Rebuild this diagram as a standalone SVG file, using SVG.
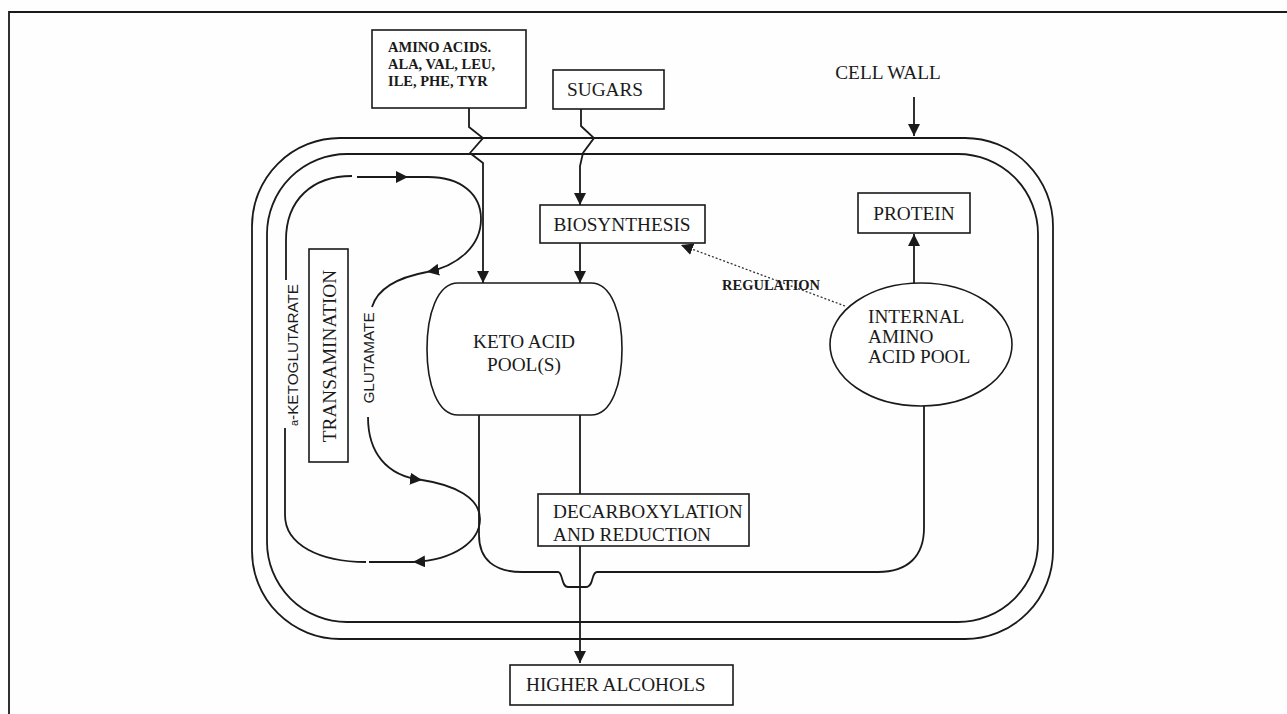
<svg xmlns="http://www.w3.org/2000/svg" width="1287" height="714" viewBox="0 0 1287 714">
<defs>
<marker id="arr" viewBox="0 0 12 12" refX="12" refY="6" markerWidth="12" markerHeight="12" markerUnits="userSpaceOnUse" orient="auto">
<path d="M0,0 L12,6 L0,12 Z" fill="#1a1a1a"/>
</marker>
<style>
.ln{fill:none;stroke:#1a1a1a;stroke-width:1.8}
.bx{fill:#fff;stroke:#1a1a1a;stroke-width:1.6}
.t{font-family:"Liberation Serif","Times New Roman",serif;font-size:19.3px;fill:#1a1a1a}
.tb{font-family:"Liberation Serif","Times New Roman",serif;font-size:14.5px;font-weight:bold;fill:#1a1a1a}
.ts{font-family:"Liberation Sans",Arial,sans-serif;font-size:15.3px;fill:#1a1a1a}
.ar{marker-end:url(#arr)}
</style>
</defs>
<rect width="1287" height="714" fill="#fefefe"/>
<g id="frame"><path class="ln" d="M9,714 V12 H1287" stroke-width="1.6"/></g>

<g id="cell-wall">
<rect class="ln" x="252" y="138" width="801" height="501" rx="88" ry="88"/>
<rect class="ln" x="267" y="154" width="771" height="468" rx="80" ry="80"/>
</g>

<g id="connectors">
<path class="ln ar" d="M469,108 V127 L483,138 L470,153 L483,163 V283"/>
<path class="ln ar" d="M581,109 V126 L594,138 L583,153 L580,166 V205"/>
<path class="ln ar" d="M580,243 V283"/>
<path class="ln ar" d="M914,97 V136"/>
<path class="ln ar" d="M914,283 V234"/>
<path class="ar" d="M845,306 L681,245" fill="none" stroke="#333" stroke-width="1.3" stroke-dasharray="2,2"/>
<path class="ln" d="M580,415 V494"/>
<path class="ln ar" d="M580,546 V663"/>
<path class="ln" d="M479,415 V535 C479,560 495,572 522,572 H558 C563,572 561,587 568,587 H586 C594,587 591,572 597,572 H878 C908,572 924,556 924,528 V406"/>
<path class="ln" d="M286,280 V240 C286,200 312,176 352,176"/>
<path class="ln ar" d="M357,177 H408"/>
<path class="ln ar" d="M408,177 H428 C462,177 481,195 481,219 C481,246 458,266 427,272"/>
<path class="ln" d="M427,272 C400,277 378,287 372,307"/>
<path class="ln ar" d="M368,417 C368,452 386,476 422,480"/>
<path class="ln ar" d="M422,480 C455,485 480,498 480,519 C480,541 455,560 413,562"/>
<path class="ln" d="M413,562 H369"/>
<path class="ln" d="M285,428 V515 C285,545 320,562 366,562"/>
</g>

<g id="amino-acids">
<rect class="bx" x="372" y="30" width="154" height="78"/>
<text class="tb" x="388" y="52">AMINO ACIDS.</text>
<text class="tb" x="388" y="69">ALA, VAL, LEU,</text>
<text class="tb" x="388" y="86">ILE, PHE, TYR</text>
</g>

<g id="sugars">
<rect class="bx" x="553" y="70" width="111" height="39"/>
<text class="t" x="567" y="96" font-size="19.5">SUGARS</text>
</g>

<g id="cell-wall-label">
<text class="t" x="888" y="79" text-anchor="middle" font-size="19.5">CELL WALL</text>
</g>

<g id="biosynthesis">
<rect class="bx" x="540" y="205" width="165" height="38"/>
<text class="t" x="622" y="231" text-anchor="middle" font-size="20">BIOSYNTHESIS</text>
</g>

<g id="protein">
<rect class="bx" x="858" y="193" width="112" height="40"/>
<text class="t" x="914" y="220" text-anchor="middle">PROTEIN</text>
</g>

<g id="regulation-label">
<text class="tb" x="722" y="290">REGULATION</text>
</g>

<g id="keto-acid-pool">
<path class="bx" d="M458,283 H591 C612,283 622,315 622,349 C622,383 612,415 591,415 H458 C437,415 427,383 427,349 C427,315 437,283 458,283 Z"/>
<text class="t" x="524" y="348" text-anchor="middle" font-size="19.8">KETO ACID</text>
<text class="t" x="524" y="371" text-anchor="middle" font-size="19.8">POOL(S)</text>
</g>

<g id="internal-amino-acid-pool">
<ellipse class="bx" cx="921" cy="344.5" rx="91" ry="61.5"/>
<text class="t" x="868" y="323">INTERNAL</text>
<text class="t" x="868" y="343">AMINO</text>
<text class="t" x="868" y="363">ACID POOL</text>
</g>

<g id="transamination">
<rect class="bx" x="309" y="249" width="39" height="213"/>
<text class="t" transform="translate(336,356) rotate(-90)" text-anchor="middle">TRANSAMINATION</text>
</g>

<g id="a-ketoglutarate-label">
<text class="ts" transform="translate(298,355) rotate(-90)" text-anchor="middle"><tspan font-size="11">a</tspan>-KETOGLUTARATE</text>
</g>

<g id="glutamate-label">
<text class="ts" transform="translate(374,358) rotate(-90)" text-anchor="middle" font-size="16.5">GLUTAMATE</text>
</g>

<g id="decarboxylation">
<rect class="bx" x="538" y="494" width="211" height="52"/>
<text class="t" x="553" y="518">DECARBOXYLATION</text>
<text class="t" x="553" y="541">AND REDUCTION</text>
</g>

<g id="higher-alcohols">
<rect class="bx" x="510" y="665" width="223" height="40"/>
<text class="t" x="526" y="691">HIGHER ALCOHOLS</text>
</g>
</svg>
